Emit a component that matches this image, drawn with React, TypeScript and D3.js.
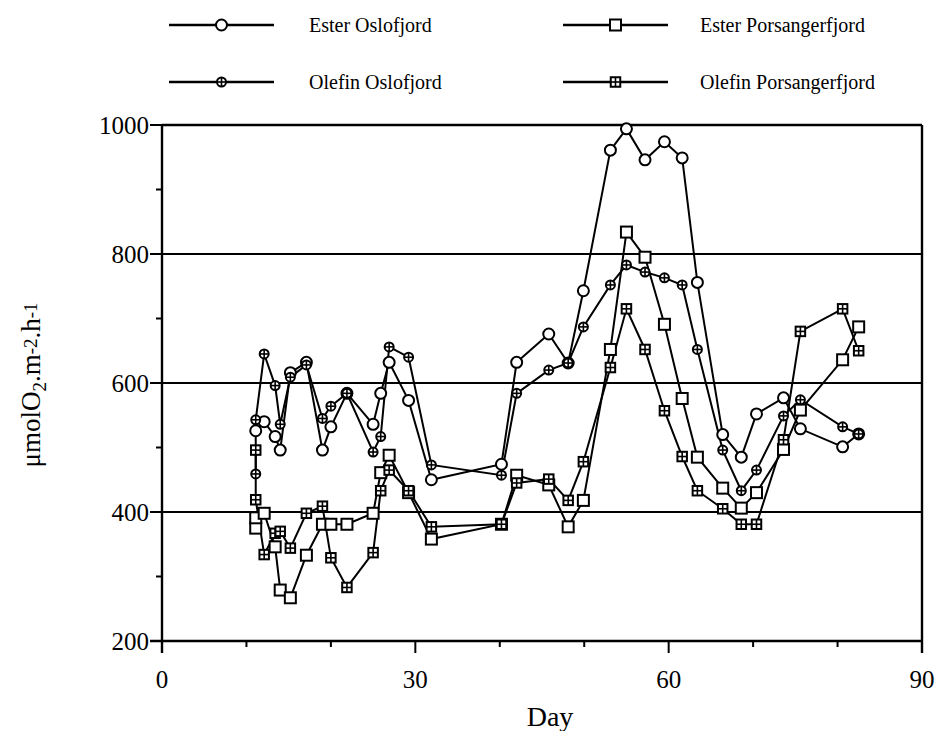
import React from "react";
import * as d3 from "d3";

// Sampling days (day 11 was sampled twice)
const days = [11.1, 11.1, 12.1, 13.4, 14.0, 15.2, 17.1, 19.0, 20.0, 21.9, 25.0, 25.9, 26.9, 29.2, 31.9, 40.2, 42.0, 45.8, 48.1, 49.9, 53.1, 55.0, 57.2, 59.5, 61.6, 63.4, 66.4, 68.6, 70.4, 73.6, 75.6, 80.6, 82.5];

const esterOslofjord = [null, 526, 540, 517, 496, 616, 632, 496, 532, 584, 536, 584, 632, 573, 450, 474, 632, 676, 631, 743, 961, 994, 946, 974, 949, 756, 520, 485, 552, 577, 529, 501, 521];
const esterPorsangerfjord = [375, 391, 398, 346, 279, 267, 333, 381, 381, 381, 398, 461, 488, 430, 358, 381, 457, 442, 377, 418, 652, 834, 795, 691, 576, 485, 437, 406, 430, 497, 558, 636, 687];
const olefinOslofjord = [459, 543, 645, 596, 536, 609, 628, 545, 564, 584, 493, 517, 656, 640, 473, 457, 584, 620, 631, 687, 752, 783, 772, 763, 752, 652, 496, 433, 465, 549, 574, 532, 521];
const olefinPorsangerfjord = [496, 419, 334, 367, 370, 344, 398, 409, 329, 283, 337, 433, 465, 433, 377, 381, 445, 451, 418, 478, 624, 715, 652, 557, 486, 433, 405, 381, 381, 512, 680, 715, 650];

const seriesNames = ["Ester Oslofjord", "Ester Porsangerfjord", "Olefin Oslofjord", "Olefin Porsangerfjord"];
const seriesValues = [esterOslofjord, esterPorsangerfjord, olefinOslofjord, olefinPorsangerfjord];
const seriesMarkers = ["circle", "square", "circleCross", "squareCross"];

const xTicks = [0, 30, 60, 90];
const xMinorTicks = [10, 20, 40, 50, 70, 80];
const yTicks = [200, 400, 600, 800, 1000];
const yMinorTicks = [300, 500, 700, 900];
const gridValues = [400, 600, 800];

const W = 936;
const H = 731;
const M = { left: 162, right: 922, top: 125, bottom: 641 };
const FONT = "'Liberation Serif', 'Times New Roman', serif";

function Marker({ kind, x, y }: { kind: string; x: number; y: number }) {
  const sw = 2;
  if (kind === "circle") {
    return <circle cx={x} cy={y} r={5.5} fill="#fff" stroke="#000" strokeWidth={sw} />;
  }
  if (kind === "square") {
    const s = 11;
    return <rect x={x - s / 2} y={y - s / 2} width={s} height={s} fill="#fff" stroke="#000" strokeWidth={sw} />;
  }
  if (kind === "circleCross") {
    const r = 4.5;
    return (
      <g>
        <circle cx={x} cy={y} r={r} fill="#fff" stroke="#000" strokeWidth={sw} />
        <line x1={x - r} x2={x + r} y1={y} y2={y} stroke="#000" strokeWidth={1.6} />
        <line x1={x} x2={x} y1={y - r} y2={y + r} stroke="#000" strokeWidth={1.6} />
      </g>
    );
  }
  const s = 9.5;
  return (
    <g>
      <rect x={x - s / 2} y={y - s / 2} width={s} height={s} fill="#fff" stroke="#000" strokeWidth={sw} />
      <line x1={x - s / 2} x2={x + s / 2} y1={y} y2={y} stroke="#000" strokeWidth={1.6} />
      <line x1={x} x2={x} y1={y - s / 2} y2={y + s / 2} stroke="#000" strokeWidth={1.6} />
    </g>
  );
}

export default function App() {
  const x = d3.scaleLinear().domain([0, 90]).range([M.left, M.right]);
  const y = d3.scaleLinear().domain([200, 1000]).range([M.bottom, M.top]);

  const line = d3
    .line<[number, number | null]>()
    .defined((d) => d[1] != null)
    .x((d) => x(d[0]))
    .y((d) => y(d[1] as number));

  const legendRows = [25, 82];
  const legendCols = [
    { x1: 169, x2: 274, tx: 309 },
    { x1: 563, x2: 668, tx: 700 },
  ];

  return (
    <svg width={W} height={H} style={{ position: "absolute", left: 0, top: 0, background: "#fff" }} fontFamily={FONT}>
      <rect width={W} height={H} fill="#fff" />

      {/* horizontal reference lines */}
      {gridValues.map((v) => (
        <line key={v} x1={M.left} x2={M.right} y1={y(v)} y2={y(v)} stroke="#000" strokeWidth={2} />
      ))}

      {/* frame */}
      <line x1={M.left} x2={M.right} y1={M.top} y2={M.top} stroke="#000" strokeWidth={2.4} />
      <line x1={M.right} x2={M.right} y1={M.top} y2={M.bottom + 12} stroke="#000" strokeWidth={2.4} />
      <line x1={M.left} x2={M.left} y1={M.top} y2={M.bottom + 12} stroke="#000" strokeWidth={2.4} />
      <line x1={M.left - 12} x2={M.right} y1={M.bottom} y2={M.bottom} stroke="#000" strokeWidth={2.4} />

      {/* y ticks */}
      {yTicks.map((v) => (
        <g key={v}>
          <line x1={M.left - 12} x2={M.left} y1={y(v)} y2={y(v)} stroke="#000" strokeWidth={2} />
          <text x={M.left - 13} y={y(v)} dy="0.35em" textAnchor="end" fontSize={25}>
            {v}
          </text>
        </g>
      ))}
      {yMinorTicks.map((v) => (
        <line key={v} x1={M.left - 6} x2={M.left} y1={y(v)} y2={y(v)} stroke="#000" strokeWidth={2} />
      ))}

      {/* x ticks */}
      {xTicks.map((v) => (
        <g key={v}>
          <line x1={x(v)} x2={x(v)} y1={M.bottom} y2={M.bottom + 12} stroke="#000" strokeWidth={2} />
          <text x={x(v)} y={688} textAnchor="middle" fontSize={25}>
            {v}
          </text>
        </g>
      ))}
      {xMinorTicks.map((v) => (
        <line key={v} x1={x(v)} x2={x(v)} y1={M.bottom} y2={M.bottom + 6} stroke="#000" strokeWidth={2} />
      ))}

      <text x={(M.left + M.right) / 2 + 8} y={726} textAnchor="middle" fontSize={28}>
        Day
      </text>

      <text transform={`translate(40, 385) rotate(-90)`} textAnchor="middle" fontSize={27}>
        μmolO<tspan fontSize={19} dy={6}>2</tspan>
        <tspan dy={-6}>.m</tspan>
        <tspan fontSize={19} dy={-3}>-2</tspan>
        <tspan dy={3}>.h</tspan>
        <tspan fontSize={19} dy={-3}>-1</tspan>
      </text>

      {/* series lines */}
      {seriesValues.map((vals, i) => {
        const pts = days.map((d, j) => [d, vals[j]] as [number, number | null]);
        return <path key={i} d={line(pts) || ""} fill="none" stroke="#000" strokeWidth={2} />;
      })}

      {/* series markers */}
      {seriesValues.map((vals, i) => (
        <g key={i}>
          {days.map((d, j) =>
            vals[j] == null ? null : <Marker key={j} kind={seriesMarkers[i]} x={x(d)} y={y(vals[j] as number)} />
          )}
        </g>
      ))}

      {/* legend */}
      {seriesNames.map((name, i) => {
        const col = legendCols[i % 2];
        const ry = legendRows[Math.floor(i / 2)];
        return (
          <g key={name}>
            <line x1={col.x1} x2={col.x2} y1={ry} y2={ry} stroke="#000" strokeWidth={2.4} />
            <Marker kind={seriesMarkers[i]} x={(col.x1 + col.x2) / 2} y={ry} />
            <text x={col.tx} y={ry} dy="0.35em" fontSize={20}>
              {name}
            </text>
          </g>
        );
      })}
    </svg>
  );
}
